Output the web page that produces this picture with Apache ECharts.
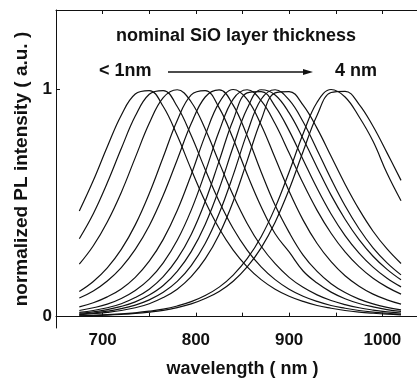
<!DOCTYPE html>
<html><head><meta charset="utf-8">
<script src="https://cdn.jsdelivr.net/npm/echarts@6/dist/echarts.min.js"></script>
<style>html,body{margin:0;padding:0;background:#fff}#c{width:417px;height:380px}</style>
</head><body><div id="c"></div>
<script>
// wavelength grid (nm)
const wavelengths = [675, 690, 705, 720, 735, 750, 765, 780, 795, 810, 825, 840, 855, 870, 885, 900, 915, 930, 945, 960, 975, 990, 1005, 1020];
// normalized PL spectra (peak ~745 ... ~952 nm)
const pl745 = [0.465,0.599,0.748,0.887,0.980,0.995,0.925,0.797,0.648,0.507,0.388,0.293,0.219,0.163,0.121,0.090,0.067,0.049,0.037,0.027,0.020,0.015,0.011,0.008];
const pl760 = [0.343,0.453,0.589,0.740,0.883,0.979,0.995,0.925,0.797,0.648,0.507,0.388,0.293,0.219,0.163,0.121,0.090,0.067,0.049,0.037,0.027,0.020,0.015,0.011];
const pl778 = [0.231,0.312,0.417,0.547,0.700,0.851,0.964,0.999,0.945,0.826,0.678,0.534,0.410,0.310,0.233,0.173,0.129,0.096,0.071,0.053,0.039,0.029,0.021,0.016];
const pl805 = [0.111,0.155,0.215,0.296,0.404,0.542,0.703,0.864,0.976,0.995,0.919,0.783,0.627,0.484,0.365,0.285,0.201,0.148,0.108,0.079,0.058,0.043,0.031,0.023];
const pl822 = [0.082,0.113,0.157,0.216,0.296,0.400,0.534,0.691,0.850,0.967,0.998,0.931,0.796,0.637,0.490,0.371,0.271,0.199,0.145,0.106,0.077,0.056,0.041,0.030];
const pl840 = [0.043,0.061,0.087,0.122,0.173,0.244,0.340,0.467,0.625,0.798,0.942,1.000,0.957,0.844,0.698,0.552,0.425,0.322,0.242,0.180,0.134,0.099,0.074,0.055];
const pl852 = [0.027,0.039,0.055,0.080,0.115,0.165,0.237,0.336,0.469,0.636,0.817,0.958,0.999,0.951,0.849,0.720,0.587,0.468,0.367,0.285,0.220,0.169,0.130,0.099];
const pl862 = [0.019,0.027,0.039,0.057,0.084,0.121,0.176,0.254,0.362,0.507,0.686,0.866,0.985,0.991,0.926,0.819,0.691,0.565,0.452,0.357,0.280,0.218,0.169,0.131];
const pl872 = [0.015,0.021,0.031,0.045,0.065,0.095,0.137,0.199,0.286,0.406,0.563,0.748,0.916,0.999,0.976,0.897,0.783,0.657,0.535,0.429,0.339,0.266,0.208,0.162];
const pl882 = [0.011,0.016,0.024,0.035,0.051,0.074,0.107,0.155,0.225,0.322,0.455,0.623,0.809,0.957,0.999,0.954,0.858,0.734,0.606,0.488,0.387,0.303,0.237,0.184];
const pl892 = [0.009,0.013,0.019,0.027,0.039,0.057,0.084,0.121,0.176,0.254,0.362,0.507,0.686,0.866,0.985,0.991,0.931,0.829,0.706,0.583,0.472,0.376,0.298,0.234];
const pl945 = [0.004,0.006,0.009,0.012,0.017,0.024,0.033,0.047,0.066,0.093,0.130,0.183,0.255,0.352,0.480,0.637,0.805,0.944,1.000,0.967,0.880,0.772,0.631,0.510];
const pl952 = [0.004,0.005,0.007,0.010,0.014,0.020,0.028,0.040,0.056,0.080,0.111,0.156,0.219,0.303,0.416,0.560,0.727,0.887,0.987,0.992,0.935,0.838,0.721,0.600];
const spectra = [pl745, pl760, pl778, pl805, pl822, pl840, pl852, pl862, pl872, pl882, pl892, pl945, pl952];
const xLabelTicks = [700, 800, 900, 1000];
const yLabelTicks = [0, 1];

const FONT = 'Liberation Sans';
const chart = echarts.init(document.getElementById('c'), null, {renderer: 'canvas'});
const series = spectra.map(arr => ({
  type: 'line',
  data: wavelengths.map((w, i) => [w, arr[i]]),
  showSymbol: false,
  smooth: 0.4,
  lineStyle: {color: '#111', width: 1.2},
  silent: true,
  animation: false
}));

chart.setOption({
  animation: false,
  backgroundColor: '#fff',
  grid: {left: 56, top: 10, width: 373, height: 318, outerBoundsMode: 'none', containLabel: false},
  xAxis: [{
    type: 'value', min: 650, max: 1050, interval: 50,
    name: 'wavelength ( nm )', nameLocation: 'middle', nameGap: 32,
    nameTextStyle: {fontFamily: FONT, fontWeight: 'bold', fontSize: 18, color: '#111'},
    axisLine: {lineStyle: {color: '#111', width: 1}},
    axisTick: {inside: true, length: 4, lineStyle: {color: '#111'}},
    axisLabel: {margin: 4, fontFamily: FONT, fontWeight: 'bold', fontSize: 17, color: '#111',
      formatter: v => xLabelTicks.includes(v) ? String(v) : ''},
    splitLine: {show: false}
  }, {
    type: 'value', position: 'top', min: 650, max: 1050, interval: 50,
    axisLine: {lineStyle: {color: '#111', width: 1}},
    axisTick: {inside: true, length: 4, lineStyle: {color: '#111'}},
    axisLabel: {show: false},
    splitLine: {show: false}
  }],
  yAxis: {
    type: 'value', min: -0.05, max: 1.35,
    name: 'normalized PL intensity ( a.u. )', nameLocation: 'middle', nameGap: 25,
    nameTextStyle: {fontFamily: FONT, fontWeight: 'bold', fontSize: 19, color: '#111'},
    axisLine: {lineStyle: {color: '#111', width: 1}},
    axisTick: {inside: true, length: 4, customValues: yLabelTicks, lineStyle: {color: '#111'}},
    axisLabel: {margin: 4, customValues: yLabelTicks, fontFamily: FONT, fontWeight: 'bold', fontSize: 17, color: '#111'},
    splitLine: {show: false}
  },
  graphic: [
    {type: 'text', left: 116, top: 27, style: {text: 'nominal SiO layer thickness', font: 'bold 18px "Liberation Sans"', fill: '#111'}},
    {type: 'text', left: 99, top: 62, style: {text: '< 1nm', font: 'bold 18px "Liberation Sans"', fill: '#111'}},
    {type: 'text', left: 335, top: 62, style: {text: '4 nm', font: 'bold 18px "Liberation Sans"', fill: '#111'}},
    {type: 'line', shape: {x1: 168, y1: 72, x2: 306, y2: 72}, style: {stroke: '#111', lineWidth: 1.5}},
    {type: 'polygon', shape: {points: [[303, 69], [313, 72], [303, 75]]}, style: {fill: '#111'}}
  ],
  series: series
});
</script>
</body></html>
